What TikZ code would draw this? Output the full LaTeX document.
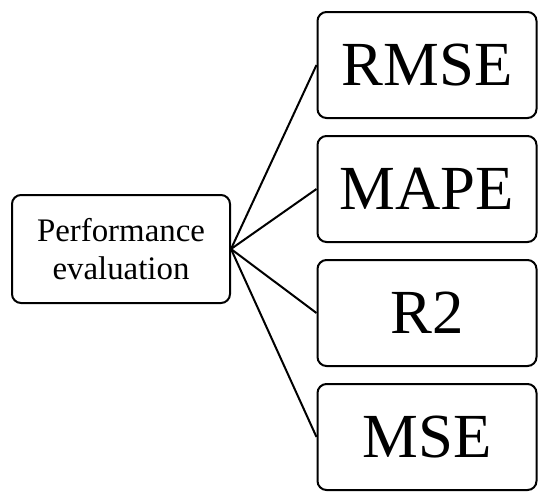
\documentclass[tikz,border=0pt]{standalone}
\usepackage{fontspec}
\setmainfont{Liberation Serif}
\usetikzlibrary{positioning}
\tikzset{
  mbox/.style={draw,rounded corners=9bp,line width=2bp,minimum width=219bp,minimum height=106bp,inner sep=0pt,align=center,fill=white},
  metric/.style={mbox,font=\fontsize{63}{66}\selectfont},
  link/.style={draw,line width=2bp},
}
\begin{document}
\begin{tikzpicture}[node distance=16bp]
\useasboundingbox (0,0) rectangle (550bp,-504bp);
\node[mbox,minimum width=218bp,minimum height=108bp,font=\fontsize{33}{38}\selectfont] (perf) at (121bp,-249bp) {Performance\\evaluation};
\node[metric] (rmse) at (427bp,-65bp) {RMSE};
\node[metric,below=of rmse] (mape) {MAPE};
\node[metric,below=of mape] (rtwo) {R2};
\node[metric,below=of rtwo] (mse) {MSE};
\draw[link] (perf.east) -- (rmse.west);
\draw[link] (perf.east) -- (mape.west);
\draw[link] (perf.east) -- (rtwo.west);
\draw[link] (perf.east) -- (mse.west);
\end{tikzpicture}
\end{document}
